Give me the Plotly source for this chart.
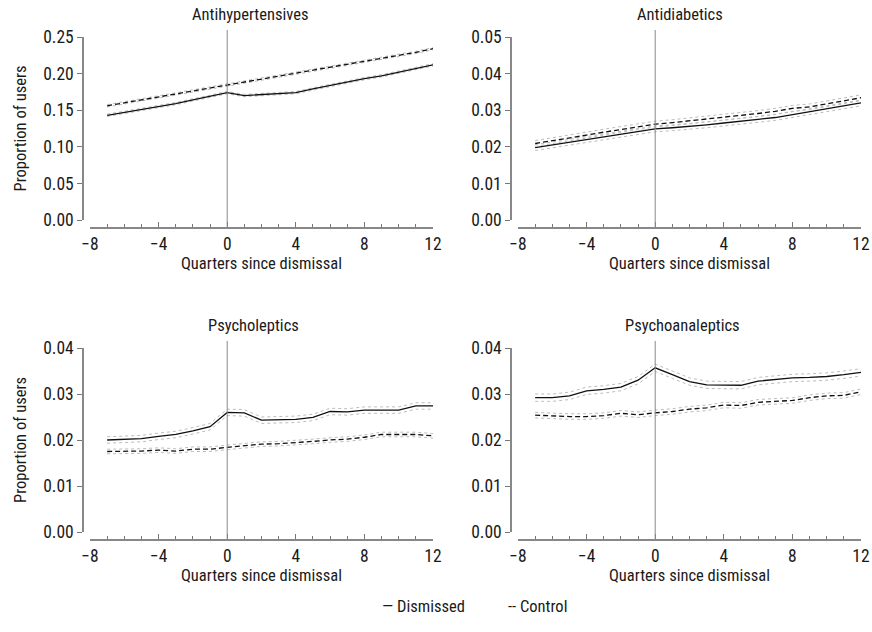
import plotly.graph_objects as go

quarters = list(range(-7, 13))

titles = ["Antihypertensives", "Antidiabetics", "Psycholeptics", "Psychoanaleptics"]

anti_hyp_dismissed = [0.143, 0.147, 0.150, 0.155, 0.159, 0.164, 0.169, 0.174, 0.170, 0.171,
                      0.172, 0.174, 0.179, 0.184, 0.188, 0.193, 0.197, 0.202, 0.207, 0.212]
anti_hyp_control = [0.156, 0.160, 0.164, 0.168, 0.172, 0.176, 0.180, 0.184, 0.188, 0.192,
                    0.196, 0.200, 0.204, 0.208, 0.212, 0.216, 0.220, 0.225, 0.229, 0.234]

anti_dia_dismissed = [0.0198, 0.0205, 0.0212, 0.0219, 0.0226, 0.0233, 0.0240, 0.0249, 0.0252, 0.0255,
                      0.0260, 0.0265, 0.0269, 0.0275, 0.0280, 0.0288, 0.0294, 0.0303, 0.0310, 0.0320]
anti_dia_control = [0.0209, 0.0216, 0.0224, 0.0232, 0.0240, 0.0247, 0.0254, 0.0262, 0.0266, 0.0270,
                    0.0276, 0.0281, 0.0285, 0.0291, 0.0297, 0.0305, 0.0309, 0.0317, 0.0326, 0.0334]

psycholeptics_dismissed = [0.0200, 0.0201, 0.0203, 0.0208, 0.0212, 0.0220, 0.0229, 0.0260, 0.0259, 0.0243,
                           0.0244, 0.0245, 0.0249, 0.0262, 0.0261, 0.0265, 0.0265, 0.0265, 0.0274, 0.0274]
psycholeptics_control = [0.0175, 0.0175, 0.0176, 0.0178, 0.0176, 0.0180, 0.0180, 0.0184, 0.0187, 0.0191,
                         0.0192, 0.0194, 0.0197, 0.0200, 0.0202, 0.0206, 0.0212, 0.0212, 0.0212, 0.0209]

psychoanaleptics_dismissed = [0.0292, 0.0292, 0.0296, 0.0307, 0.0310, 0.0315, 0.0330, 0.0357, 0.0342, 0.0327,
                              0.0320, 0.0320, 0.0319, 0.0328, 0.0331, 0.0335, 0.0336, 0.0338, 0.0342, 0.0347]
psychoanaleptics_control = [0.0254, 0.0252, 0.0251, 0.0251, 0.0253, 0.0258, 0.0255, 0.0259, 0.0262, 0.0267,
                            0.0270, 0.0276, 0.0275, 0.0282, 0.0284, 0.0286, 0.0292, 0.0296, 0.0297, 0.0305]

ci_halfwidth = {
    "Antihypertensives": (0.0016, 0.0016),
    "Antidiabetics": (0.0008, 0.0008),
    "Psycholeptics": (0.0007, 0.0005),
    "Psychoanaleptics": (0.0008, 0.0006),
}

y_ranges = [0.25, 0.05, 0.04, 0.04]
y_ticks = [[0, 0.05, 0.10, 0.15, 0.20, 0.25],
           [0, 0.01, 0.02, 0.03, 0.04, 0.05],
           [0, 0.01, 0.02, 0.03, 0.04],
           [0, 0.01, 0.02, 0.03, 0.04]]
x_ticks = [-8, -4, 0, 4, 8, 12]

series = [
    (anti_hyp_dismissed, anti_hyp_control),
    (anti_dia_dismissed, anti_dia_control),
    (psycholeptics_dismissed, psycholeptics_control),
    (psychoanaleptics_dismissed, psychoanaleptics_control),
]

W, H = 872, 632
FONT = "Liberation Sans Narrow, Roboto Condensed, Arial Narrow, DejaVu Sans Condensed, sans-serif"
TXT = 16.5
TICK = 17.5

# pixel layout per panel: (x_left_-8, x_right_12, y_axis_x, y_top, y_zero, x_axis_y, title_center_x)
panels = [
    (90, 433, 83, 37, 220, 228, 250),
    (518, 861, 511, 37, 220, 228, 680),
    (90, 433, 83, 348, 532, 540, 253),
    (518, 861, 511, 348, 532, 540, 682),
]

fig = go.Figure()
layout = dict(width=W, height=H, margin=dict(l=0, r=0, t=0, b=0, autoexpand=False),
              plot_bgcolor="white", paper_bgcolor="white", showlegend=False,
              font=dict(family=FONT, size=TXT, color="#1a1a1a"))
shapes = []
annotations = []
for i, (title, (dis, con)) in enumerate(zip(titles, series)):
    xn = "x" if i == 0 else f"x{i+1}"
    yn = "y" if i == 0 else f"y{i+1}"
    xl, xr, yax, ytop, yzero, xay, tcx = panels[i]
    hw_d, hw_c = ci_halfwidth[title]
    for vals, hw, dash in [(dis, hw_d, "solid"), (con, hw_c, "5px,3px")]:
        for sgn in (-1, 1):
            fig.add_trace(go.Scatter(x=quarters, y=[v + sgn * hw for v in vals], mode="lines",
                                     line=dict(color="#bdbdbd", width=1, dash="dot"),
                                     xaxis=xn, yaxis=yn, hoverinfo="skip"))
        fig.add_trace(go.Scatter(x=quarters, y=vals, mode="lines",
                                 line=dict(color="#111", width=1.3, dash=dash),
                                 xaxis=xn, yaxis=yn))
    xk = "xaxis" if i == 0 else f"xaxis{i+1}"
    yk = "yaxis" if i == 0 else f"yaxis{i+1}"
    layout[xk] = dict(domain=[xl / W, xr / W], range=[-8, 12], anchor="free",
                      position=1 - xay / H, tickvals=x_ticks, automargin=False,
                      ticks="inside", ticklen=5, tickcolor="#777", tickwidth=1,
                      minor=dict(dtick=1, ticks="inside", ticklen=3, tickcolor="#777"),
                      showline=True, linecolor="#888", linewidth=1.5, showgrid=False,
                      zeroline=False, tickfont=dict(size=TICK),
                      title=dict(text="Quarters since dismissal", font=dict(size=TXT), standoff=2))
    layout[yk] = dict(domain=[1 - yzero / H, 1 - ytop / H], range=[0, y_ranges[i]],
                      anchor="free", position=yax / W, tickvals=y_ticks[i], tickformat=".2f",
                      ticks="outside", ticklen=5, tickcolor="#777", automargin=False,
                      showline=True, linecolor="#888", linewidth=1.5, showgrid=False,
                      zeroline=False, tickfont=dict(size=TICK))
    if i % 2 == 0:
        layout[yk]["title"] = dict(text="Proportion of users", font=dict(size=TXT), standoff=11)
    shapes.append(dict(type="line", xref=xn, yref="paper", x0=0, x1=0,
                       y0=1 - xay / H, y1=1 - (ytop - 7) / H,
                       line=dict(color="#888", width=1)))
    annotations.append(dict(text=title, x=tcx / W, y=1 - (ytop - 23) / H,
                            xref="paper", yref="paper", showarrow=False,
                            font=dict(size=TXT), xanchor="center", yanchor="middle"))

annotations.append(dict(text="— Dismissed", x=380 / W, y=1 - 618 / H, xref="paper", yref="paper",
                        xanchor="left", showarrow=False, font=dict(size=TXT)))
annotations.append(dict(text="-- Control", x=506 / W, y=1 - 618 / H, xref="paper", yref="paper",
                        xanchor="left", showarrow=False, font=dict(size=TXT)))
layout["shapes"] = shapes
layout["annotations"] = annotations
fig.update_layout(**layout)
fig.write_html("out.html")
